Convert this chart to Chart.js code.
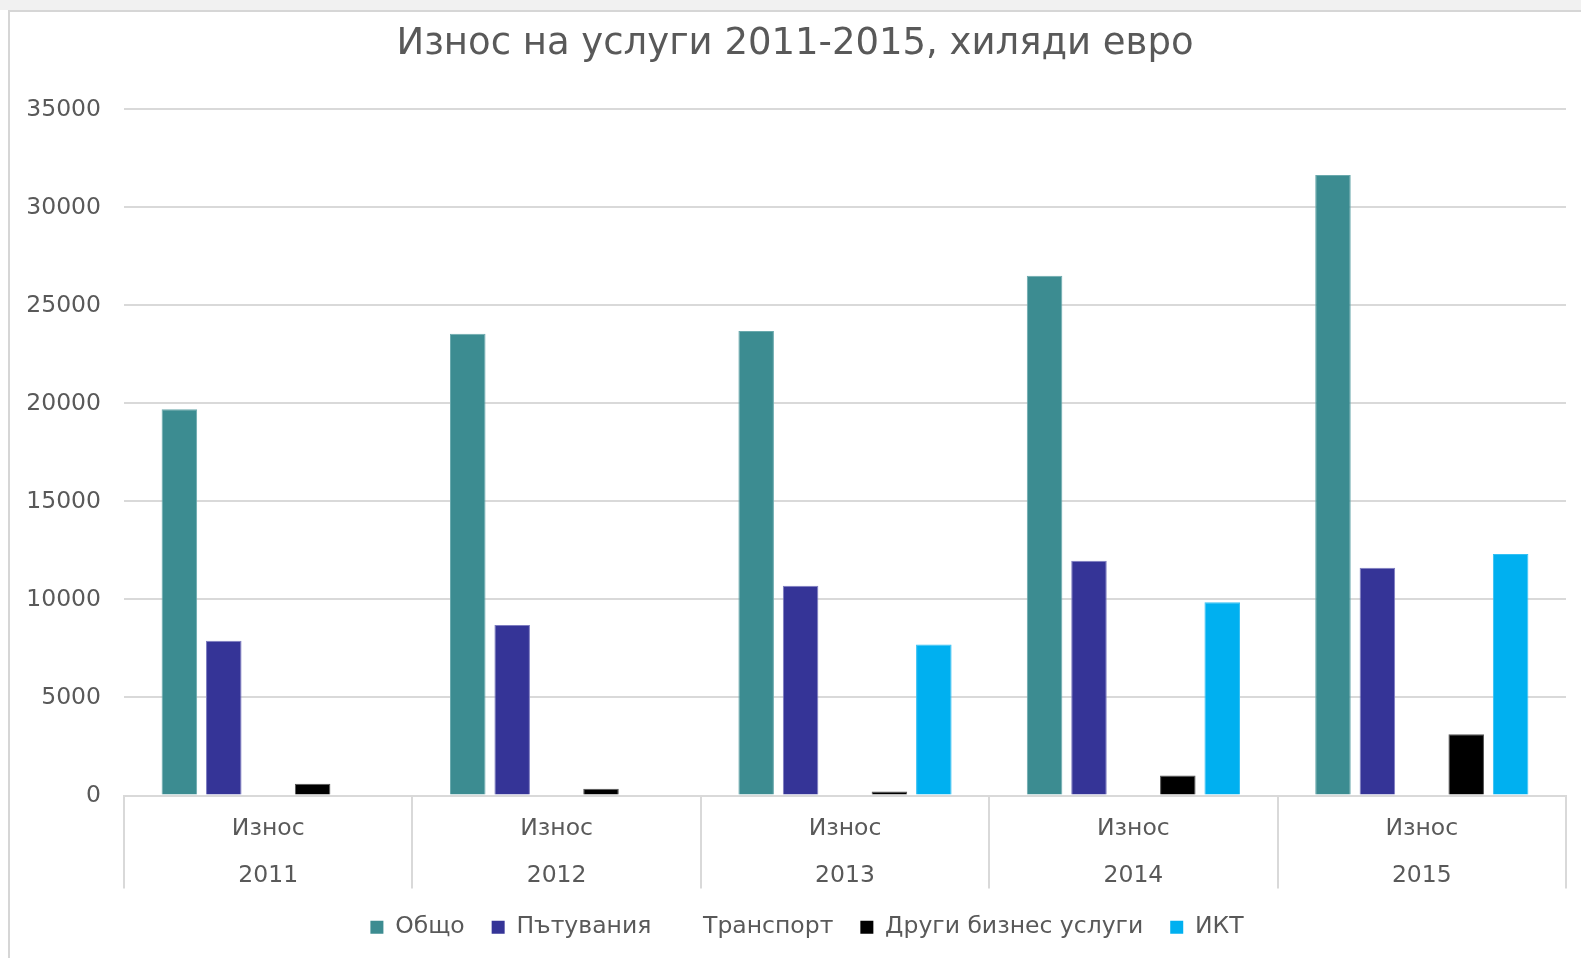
<!DOCTYPE html>
<html>
<head>
<meta charset="utf-8">
<script src="https://cdn.jsdelivr.net/npm/chart.js@4.4.1/dist/chart.umd.min.js"></script>
<style>
  html, body { margin: 0; padding: 0; background: #ffffff; }
  #strip { position: absolute; left: 0; top: 0; width: 1581px; height: 10px; background: #f1f1f1; }
  #frame { position: absolute; left: 8px; top: 10px; width: 1573px; height: 948px;
           border-top: 2px solid #d6d6d6; border-left: 2px solid #d6d6d6; box-sizing: border-box; }
  #c { position: absolute; left: 0; top: 0; }
</style>
</head>
<body>
<div id="strip"></div>
<div id="frame"></div>
<canvas id="c" width="1581" height="958"></canvas>
<script>
const titleText = 'Износ на услуги 2011-2015, хиляди евро';
const groupLabel = 'Износ';
const years = ['2011', '2012', '2013', '2014', '2015'];
const seriesNames = ['Общо', 'Пътувания', 'Транспорт', 'Други бизнес услуги', 'ИКТ'];
const obshto = [19700, 23550, 23700, 26520, 31650];
const patuvania = [7900, 8700, 10700, 11970, 11620];
const transport = [null, null, null, null, null];
const drugi = [600, 350, 200, 1020, 3120];
const ikt = [null, null, 7700, 9860, 12320];
const yTicks = [0, 5000, 10000, 15000, 20000, 25000, 30000, 35000];

const fills = ['#3c8c91', '#353497', '#ffffff', '#000000', '#00b0f0'];
const borders = ['#6aa9ad', '#7d7cc0', '#ffffff', '#555555', '#33c0f3'];
const values = [obshto, patuvania, transport, drugi, ikt];

const FONT = 'DejaVu Sans, Verdana, sans-serif';
const GRAY = '#595959';
const LINE = '#d9d9d9';

// let the two-line category labels draw below the compacted axis box,
// and nudge the legend row slightly to the right
const layoutTweaks = {
  id: 'layoutTweaks',
  afterLayout(chart) {
    chart.scales.x.bottom += 40;
    chart.legend.left += 12;
    chart.legend.right += 12;
  }
};

new Chart(document.getElementById('c'), {
  type: 'bar',
  data: {
    labels: years.map(y => [groupLabel, y]),
    datasets: seriesNames.map((n, i) => ({
      label: n,
      data: values[i],
      backgroundColor: fills[i],
      borderColor: borders[i],
      borderWidth: i === 2 ? 0 : 1,
      categoryPercentage: 0.77,
      barPercentage: 0.8
    }))
  },
  plugins: [layoutTweaks],
  options: {
    responsive: false,
    animation: false,
    layout: { padding: { left: 24, right: 15, top: 0, bottom: 9 } },
    plugins: {
      tooltip: { enabled: false },
      title: {
        display: true,
        text: titleText,
        color: GRAY,
        font: { family: FONT, size: 37, weight: 'normal' },
        padding: { top: 22, bottom: 43 }
      },
      legend: {
        position: 'bottom',
        labels: {
          color: GRAY,
          font: { family: FONT, size: 23.5 },
          boxWidth: 13,
          boxHeight: 13,
          padding: 27,
          generateLabels: (chart) => seriesNames.map((n, i) => ({
            text: n,
            fillStyle: fills[i],
            strokeStyle: fills[i],
            lineWidth: 0,
            fontColor: GRAY,
            datasetIndex: i,
            hidden: false
          }))
        }
      }
    },
    scales: {
      x: {
        grid: { display: true, drawOnChartArea: false, drawTicks: true, tickLength: 93, color: LINE, lineWidth: 2, offset: true },
        border: { display: true, color: LINE, width: 2 },
        ticks: { color: GRAY, font: { family: FONT, size: 23.5, lineHeight: 2.0 }, padding: -83, maxRotation: 0, autoSkip: false },
        afterFit: s => { s.height = 93; }
      },
      y: {
        min: 0, max: 35000,
        afterBuildTicks: s => { s.ticks = yTicks.map(v => ({ value: v })); },
        grid: { color: LINE, lineWidth: 2, drawTicks: false },
        border: { display: false },
        ticks: { color: GRAY, font: { family: FONT, size: 23.5 }, padding: 23, callback: v => String(v) },
        afterFit: s => { s.width = 100; }
      }
    }
  }
});
</script>
</body>
</html>
